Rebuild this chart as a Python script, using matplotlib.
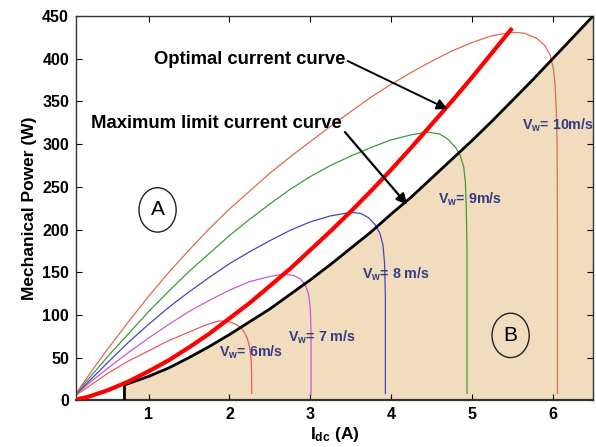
import matplotlib
matplotlib.use("Agg")
import matplotlib.pyplot as plt
from matplotlib.patches import Ellipse

plt.rcParams['font.family'] = ['Liberation Sans', 'DejaVu Sans']
plt.rcParams['mathtext.fontset'] = 'custom'
plt.rcParams['mathtext.rm'] = 'Liberation Sans'
plt.rcParams['mathtext.bf'] = 'Liberation Sans:bold'
plt.rcParams['mathtext.it'] = 'Liberation Sans:italic'

# ---- data ----
# maximum limit current curve
lim_x = [0.7, 0.7, 1.0, 1.25, 1.5, 1.75, 2.0, 2.25, 2.5, 2.75, 3.0, 3.25, 3.5, 3.75,
         4.0, 4.25, 4.5, 4.75, 5.0, 5.25, 5.5, 5.75, 6.0, 6.25, 6.5]
lim_y = [0, 18, 28, 38, 50, 63, 77, 92, 107, 124, 141, 159, 178, 197,
         218, 238, 260, 282, 304, 327, 351, 375, 400, 425, 450]

# optimal current curve
opt_x = [0.1, 0.25, 0.5, 0.75, 1.0, 1.25, 1.5, 1.75, 2.0, 2.25, 2.5, 2.75, 3.0,
         3.25, 3.5, 3.75, 4.0, 4.25, 4.5, 4.75, 5.0, 5.25, 5.5]
opt_y = [1, 4, 12, 22, 34, 47, 62, 78, 96, 114, 134, 154, 176,
         198, 221, 245, 270, 296, 323, 350, 378, 407, 436]

# wind speed curves
v6_x = [0.1, 0.3, 0.5, 0.75, 1.0, 1.25, 1.5, 1.7, 1.87, 2.0, 2.1, 2.17, 2.22, 2.25, 2.27, 2.275, 2.275]
v6_y = [6, 19, 32, 46, 58, 70, 80, 88, 93, 92, 88, 82, 73, 62, 45, 25, 8]

v7_x = [0.1, 0.3, 0.5, 0.75, 1.0, 1.25, 1.5, 1.75, 2.0, 2.25, 2.5, 2.67, 2.8, 2.88, 2.94, 2.98, 3.0, 3.01, 3.01]
v7_y = [7, 23, 38, 56, 73, 89, 104, 117, 129, 139, 145, 148, 146, 142, 135, 124, 108, 80, 8]

v8_x = [0.1, 0.3, 0.5, 0.75, 1.0, 1.25, 1.5, 1.75, 2.0, 2.25, 2.5, 2.75, 3.0, 3.25, 3.5,
        3.62, 3.72, 3.8, 3.86, 3.9, 3.92, 3.93, 3.93]
v8_y = [7, 26, 45, 68, 89, 109, 127, 144, 160, 174, 187, 199, 209, 216, 220,
        219, 214, 206, 196, 182, 160, 120, 8]

v9_x = [0.1, 0.3, 0.5, 0.75, 1.0, 1.25, 1.5, 1.75, 2.0, 2.25, 2.5, 2.75, 3.0, 3.25, 3.5,
        3.75, 4.0, 4.25, 4.45, 4.6, 4.7, 4.8, 4.86, 4.9, 4.92, 4.93, 4.94, 4.94]
v9_y = [8, 30, 52, 78, 104, 128, 151, 172, 193, 212, 230, 247, 262, 275, 286,
        296, 305, 311, 314, 312, 306, 296, 286, 273, 255, 230, 180, 8]

v10_x = [0.1, 0.3, 0.5, 0.75, 1.0, 1.25, 1.5, 1.75, 2.0, 2.25, 2.5, 2.75, 3.0, 3.25, 3.5,
         3.75, 4.0, 4.25, 4.5, 4.75, 5.0, 5.25, 5.5, 5.65, 5.8, 5.9, 5.97, 6.01, 6.03,
         6.045, 6.055, 6.06, 6.06]
v10_y = [8, 35, 61, 92, 122, 150, 176, 201, 224, 245, 266, 285, 303, 321, 338,
         355, 370, 384, 397, 409, 419, 427, 431, 430, 424, 416, 404, 388, 370,
         340, 300, 200, 8]

wind_labels = ['6m/s', '7 m/s', '8 m/s', '9m/s', '10m/s']
x_ticks = [1, 2, 3, 4, 5, 6]
y_ticks = [0, 50, 100, 150, 200, 250, 300, 350, 400, 450]

# ---- figure ----
fig = plt.figure(figsize=(5.96, 4.47), dpi=100)
ax = fig.add_axes([0.1275, 0.1045, 0.8675, 0.8595])

beige = '#f2dcbe'
ax.fill_between(lim_x, 0, lim_y, color=beige, lw=0, zorder=1)

wind = [(v6_x, v6_y, '#ec5a5e'), (v7_x, v7_y, '#c95ad6'), (v8_x, v8_y, '#4444c8'),
        (v9_x, v9_y, '#3f9a3f'), (v10_x, v10_y, '#dd6b52')]
for wx, wy, c in wind:
    ax.plot(wx, wy, color=c, lw=0.9, zorder=2)

ax.plot(lim_x, lim_y, color='black', lw=2.0, zorder=3)
ax.plot(opt_x, opt_y, color='#ff0000', lw=3.0, zorder=4, solid_capstyle='butt')

ax.set_xlim(0.1, 6.5)
ax.set_ylim(0, 450)
ax.set_xticks(x_ticks)
ax.set_yticks(y_ticks)
ax.tick_params(direction='in', length=4, top=True, right=True, labelsize=11.5, pad=5)
for lab in ax.get_xticklabels() + ax.get_yticklabels():
    lab.set_fontweight('bold')
for s in ax.spines.values():
    s.set_color('#333333')
    s.set_linewidth(1.0)
ax.spines['bottom'].set_linewidth(1.6)

ax.set_ylabel('Mechanical Power (W)', fontsize=12.5, fontweight='bold', labelpad=4)
ax.set_xlabel(r'$\mathbf{I_{dc}}$ (A)', fontsize=12.5, fontweight='bold', labelpad=2)

# annotations
ax.annotate('Optimal current curve', xy=(4.70, 341), xytext=(1.06, 399),
            fontsize=13.3, fontweight='bold', va='center', ha='left', zorder=6,
            arrowprops=dict(arrowstyle='-|>', color='black', lw=1.4, mutation_scale=16,
                            shrinkA=0, shrinkB=0, relpos=(1.0, 0.5)))
ax.annotate('Maximum limit current curve', xy=(4.20, 229), xytext=(0.29, 324),
            fontsize=13.3, fontweight='bold', va='center', ha='left', zorder=6,
            arrowprops=dict(arrowstyle='-|>', color='black', lw=1.6, mutation_scale=16,
                            shrinkA=0, shrinkB=0, relpos=(1.0, 0.2)))

navy = '#333d84'
lab_pos = [(1.87, 56), (2.72, 74), (3.64, 148), (4.58, 235), (5.62, 322)]
for (lx, ly), t in zip(lab_pos, wind_labels):
    ax.text(lx, ly, r'$\mathbf{V_w}$= ' + t, color=navy, fontsize=10.3, fontweight='bold',
            ha='left', va='center', zorder=6)

for cx, cy, t in [(1.11, 223, 'A'), (5.48, 76, 'B')]:
    ax.add_patch(Ellipse((cx, cy), 0.46, 52, fill=False, ec='#222222', lw=1.0, zorder=6))
    ax.text(cx, cy, t, fontsize=15, ha='center', va='center', zorder=7)

fig.savefig('out.png', dpi=100)
